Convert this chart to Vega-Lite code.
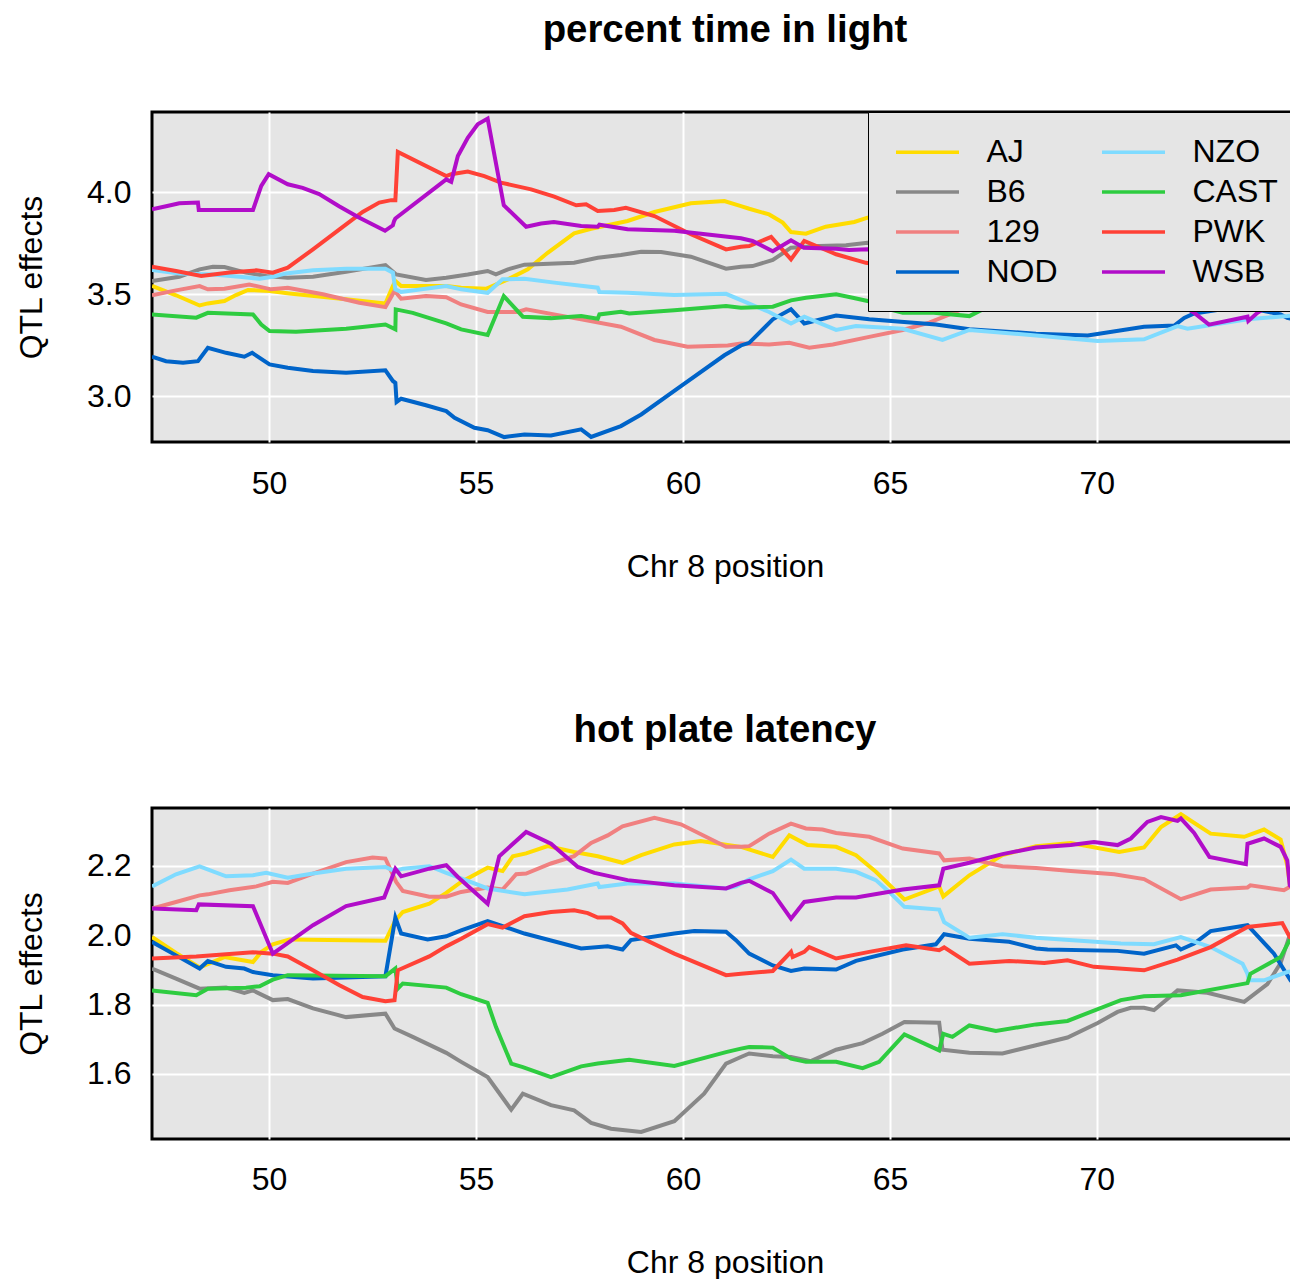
{
"$schema": "https://vega.github.io/schema/vega-lite/v6.json",
"padding": {"left": 13, "top": 9, "right": 0, "bottom": 0},
"config": {
  "font": "Liberation Sans",
  "view": {"fill": "#E5E5E5", "stroke": "black", "strokeWidth": 3},
  "axis": {"grid": true, "gridColor": "white", "gridWidth": 2, "domain": false, "ticks": false, "labelFontSize": 32, "labelColor": "black", "titleFontSize": 32, "titleFontWeight": "normal", "titleColor": "black"},
  "title": {"fontSize": 38.4, "fontWeight": "bold", "color": "black", "anchor": "middle", "baseline": "alphabetic"},
  "concat": {"spacing": 125}
},
"datasets": {
"light": [
{"s":"AJ","x":47.17,"y":3.540},{"s":"AJ","x":47.75,"y":3.494},{"s":"AJ","x":48.32,"y":3.444},{"s":"AJ","x":48.52,"y":3.454},{"s":"AJ","x":48.92,"y":3.466},{"s":"AJ","x":49.20,"y":3.495},{"s":"AJ","x":49.49,"y":3.520},{"s":"AJ","x":50.01,"y":3.515},{"s":"AJ","x":50.49,"y":3.503},{"s":"AJ","x":51.86,"y":3.474},{"s":"AJ","x":52.81,"y":3.454},{"s":"AJ","x":52.99,"y":3.539},{"s":"AJ","x":53.05,"y":3.564},{"s":"AJ","x":53.19,"y":3.539},{"s":"AJ","x":54.28,"y":3.539},{"s":"AJ","x":54.64,"y":3.531},{"s":"AJ","x":55.24,"y":3.526},{"s":"AJ","x":55.77,"y":3.572},{"s":"AJ","x":56.25,"y":3.621},{"s":"AJ","x":56.73,"y":3.702},{"s":"AJ","x":57.37,"y":3.797},{"s":"AJ","x":57.78,"y":3.820},{"s":"AJ","x":58.66,"y":3.858},{"s":"AJ","x":59.31,"y":3.902},{"s":"AJ","x":60.19,"y":3.945},{"s":"AJ","x":61.00,"y":3.956},{"s":"AJ","x":61.40,"y":3.931},{"s":"AJ","x":61.60,"y":3.918},{"s":"AJ","x":62.08,"y":3.890},{"s":"AJ","x":62.41,"y":3.850},{"s":"AJ","x":62.61,"y":3.804},{"s":"AJ","x":62.97,"y":3.796},{"s":"AJ","x":63.45,"y":3.830},{"s":"AJ","x":64.14,"y":3.853},{"s":"AJ","x":64.46,"y":3.874},{"s":"AJ","x":65.5,"y":3.90},{"s":"AJ","x":68.0,"y":3.85},{"s":"AJ","x":71.0,"y":3.80},{"s":"AJ","x":74.9,"y":3.75},
{"s":"B6","x":47.17,"y":3.564},{"s":"B6","x":47.83,"y":3.585},{"s":"B6","x":48.32,"y":3.621},{"s":"B6","x":48.64,"y":3.634},{"s":"B6","x":48.92,"y":3.632},{"s":"B6","x":49.44,"y":3.605},{"s":"B6","x":49.93,"y":3.588},{"s":"B6","x":50.45,"y":3.580},{"s":"B6","x":51.06,"y":3.585},{"s":"B6","x":51.86,"y":3.609},{"s":"B6","x":52.81,"y":3.642},{"s":"B6","x":53.07,"y":3.596},{"s":"B6","x":53.79,"y":3.569},{"s":"B6","x":54.28,"y":3.580},{"s":"B6","x":54.80,"y":3.596},{"s":"B6","x":55.28,"y":3.613},{"s":"B6","x":55.48,"y":3.596},{"s":"B6","x":55.77,"y":3.621},{"s":"B6","x":56.17,"y":3.644},{"s":"B6","x":57.37,"y":3.653},{"s":"B6","x":57.94,"y":3.678},{"s":"B6","x":58.50,"y":3.691},{"s":"B6","x":58.99,"y":3.707},{"s":"B6","x":59.47,"y":3.706},{"s":"B6","x":60.19,"y":3.683},{"s":"B6","x":61.04,"y":3.624},{"s":"B6","x":61.40,"y":3.634},{"s":"B6","x":61.68,"y":3.637},{"s":"B6","x":62.17,"y":3.667},{"s":"B6","x":62.61,"y":3.727},{"s":"B6","x":63.29,"y":3.735},{"s":"B6","x":63.94,"y":3.739},{"s":"B6","x":64.46,"y":3.751},{"s":"B6","x":66.0,"y":3.75},{"s":"B6","x":69.0,"y":3.70},{"s":"B6","x":72.0,"y":3.68},{"s":"B6","x":74.9,"y":3.65},
{"s":"129","x":47.17,"y":3.494},{"s":"129","x":47.75,"y":3.518},{"s":"129","x":48.32,"y":3.539},{"s":"129","x":48.52,"y":3.523},{"s":"129","x":48.92,"y":3.526},{"s":"129","x":49.52,"y":3.547},{"s":"129","x":50.05,"y":3.523},{"s":"129","x":50.45,"y":3.531},{"s":"129","x":51.30,"y":3.499},{"s":"129","x":52.18,"y":3.457},{"s":"129","x":52.81,"y":3.436},{"s":"129","x":53.03,"y":3.515},{"s":"129","x":53.19,"y":3.477},{"s":"129","x":53.79,"y":3.490},{"s":"129","x":54.28,"y":3.484},{"s":"129","x":54.64,"y":3.449},{"s":"129","x":55.28,"y":3.412},{"s":"129","x":56.01,"y":3.412},{"s":"129","x":56.21,"y":3.425},{"s":"129","x":57.54,"y":3.376},{"s":"129","x":58.50,"y":3.340},{"s":"129","x":59.31,"y":3.275},{"s":"129","x":60.11,"y":3.242},{"s":"129","x":61.08,"y":3.248},{"s":"129","x":61.40,"y":3.258},{"s":"129","x":62.08,"y":3.253},{"s":"129","x":62.57,"y":3.261},{"s":"129","x":63.05,"y":3.237},{"s":"129","x":63.62,"y":3.253},{"s":"129","x":64.50,"y":3.290},{"s":"129","x":65.31,"y":3.324},{"s":"129","x":65.95,"y":3.360},{"s":"129","x":66.59,"y":3.412},{"s":"129","x":67.5,"y":3.50},{"s":"129","x":70.0,"y":3.55},{"s":"129","x":72.5,"y":3.55},{"s":"129","x":74.9,"y":3.55},
{"s":"NOD","x":47.17,"y":3.193},{"s":"NOD","x":47.51,"y":3.171},{"s":"NOD","x":47.92,"y":3.163},{"s":"NOD","x":48.28,"y":3.171},{"s":"NOD","x":48.52,"y":3.237},{"s":"NOD","x":48.96,"y":3.212},{"s":"NOD","x":49.40,"y":3.193},{"s":"NOD","x":49.59,"y":3.212},{"s":"NOD","x":50.01,"y":3.155},{"s":"NOD","x":50.45,"y":3.139},{"s":"NOD","x":51.06,"y":3.123},{"s":"NOD","x":51.86,"y":3.114},{"s":"NOD","x":52.81,"y":3.126},{"s":"NOD","x":52.99,"y":3.074},{"s":"NOD","x":53.05,"y":3.065},{"s":"NOD","x":53.08,"y":2.971},{"s":"NOD","x":53.19,"y":2.987},{"s":"NOD","x":53.79,"y":2.955},{"s":"NOD","x":54.28,"y":2.926},{"s":"NOD","x":54.48,"y":2.894},{"s":"NOD","x":54.96,"y":2.845},{"s":"NOD","x":55.28,"y":2.833},{"s":"NOD","x":55.68,"y":2.799},{"s":"NOD","x":56.17,"y":2.812},{"s":"NOD","x":56.81,"y":2.807},{"s":"NOD","x":57.54,"y":2.837},{"s":"NOD","x":57.78,"y":2.800},{"s":"NOD","x":58.50,"y":2.853},{"s":"NOD","x":58.99,"y":2.910},{"s":"NOD","x":59.95,"y":3.049},{"s":"NOD","x":61.00,"y":3.200},{"s":"NOD","x":61.40,"y":3.248},{"s":"NOD","x":61.60,"y":3.261},{"s":"NOD","x":62.17,"y":3.376},{"s":"NOD","x":62.61,"y":3.425},{"s":"NOD","x":62.93,"y":3.356},{"s":"NOD","x":63.70,"y":3.395},{"s":"NOD","x":64.50,"y":3.376},{"s":"NOD","x":66.11,"y":3.351},{"s":"NOD","x":66.92,"y":3.327},{"s":"NOD","x":68.53,"y":3.306},{"s":"NOD","x":69.78,"y":3.297},{"s":"NOD","x":71.14,"y":3.340},{"s":"NOD","x":71.87,"y":3.346},{"s":"NOD","x":72.11,"y":3.383},{"s":"NOD","x":72.35,"y":3.405},{"s":"NOD","x":73.5,"y":3.44},{"s":"NOD","x":74.44,"y":3.400},{"s":"NOD","x":74.60,"y":3.383},{"s":"NOD","x":74.9,"y":3.37},
{"s":"NZO","x":47.17,"y":3.618},{"s":"NZO","x":47.83,"y":3.601},{"s":"NZO","x":48.64,"y":3.596},{"s":"NZO","x":49.28,"y":3.585},{"s":"NZO","x":49.77,"y":3.575},{"s":"NZO","x":50.09,"y":3.585},{"s":"NZO","x":50.41,"y":3.601},{"s":"NZO","x":51.06,"y":3.616},{"s":"NZO","x":51.86,"y":3.624},{"s":"NZO","x":52.81,"y":3.624},{"s":"NZO","x":52.99,"y":3.605},{"s":"NZO","x":53.05,"y":3.523},{"s":"NZO","x":53.19,"y":3.510},{"s":"NZO","x":54.28,"y":3.539},{"s":"NZO","x":54.64,"y":3.523},{"s":"NZO","x":55.28,"y":3.506},{"s":"NZO","x":55.64,"y":3.572},{"s":"NZO","x":56.17,"y":3.575},{"s":"NZO","x":56.89,"y":3.556},{"s":"NZO","x":57.94,"y":3.531},{"s":"NZO","x":57.98,"y":3.510},{"s":"NZO","x":58.66,"y":3.506},{"s":"NZO","x":59.79,"y":3.495},{"s":"NZO","x":61.04,"y":3.501},{"s":"NZO","x":61.40,"y":3.470},{"s":"NZO","x":62.08,"y":3.412},{"s":"NZO","x":62.61,"y":3.356},{"s":"NZO","x":62.93,"y":3.389},{"s":"NZO","x":63.70,"y":3.324},{"s":"NZO","x":64.18,"y":3.343},{"s":"NZO","x":65.31,"y":3.330},{"s":"NZO","x":66.27,"y":3.275},{"s":"NZO","x":66.92,"y":3.324},{"s":"NZO","x":68.53,"y":3.297},{"s":"NZO","x":70.02,"y":3.270},{"s":"NZO","x":71.14,"y":3.278},{"s":"NZO","x":71.95,"y":3.343},{"s":"NZO","x":72.19,"y":3.330},{"s":"NZO","x":73.64,"y":3.376},{"s":"NZO","x":74.60,"y":3.392},{"s":"NZO","x":74.9,"y":3.40},
{"s":"CAST","x":47.17,"y":3.400},{"s":"CAST","x":48.24,"y":3.384},{"s":"CAST","x":48.52,"y":3.408},{"s":"CAST","x":49.61,"y":3.400},{"s":"CAST","x":49.81,"y":3.351},{"s":"CAST","x":50.01,"y":3.319},{"s":"CAST","x":50.65,"y":3.315},{"s":"CAST","x":51.86,"y":3.330},{"s":"CAST","x":52.81,"y":3.351},{"s":"CAST","x":53.05,"y":3.327},{"s":"CAST","x":53.06,"y":3.425},{"s":"CAST","x":53.47,"y":3.408},{"s":"CAST","x":54.28,"y":3.356},{"s":"CAST","x":54.64,"y":3.327},{"s":"CAST","x":55.28,"y":3.299},{"s":"CAST","x":55.67,"y":3.490},{"s":"CAST","x":56.13,"y":3.389},{"s":"CAST","x":56.81,"y":3.382},{"s":"CAST","x":57.54,"y":3.392},{"s":"CAST","x":57.94,"y":3.379},{"s":"CAST","x":57.98,"y":3.400},{"s":"CAST","x":58.50,"y":3.413},{"s":"CAST","x":58.70,"y":3.405},{"s":"CAST","x":59.79,"y":3.420},{"s":"CAST","x":61.04,"y":3.441},{"s":"CAST","x":61.40,"y":3.433},{"s":"CAST","x":62.17,"y":3.438},{"s":"CAST","x":62.61,"y":3.469},{"s":"CAST","x":62.97,"y":3.482},{"s":"CAST","x":63.70,"y":3.499},{"s":"CAST","x":64.10,"y":3.482},{"s":"CAST","x":64.46,"y":3.466},{"s":"CAST","x":64.9,"y":3.43},{"s":"CAST","x":65.31,"y":3.408},{"s":"CAST","x":66.0,"y":3.410},{"s":"CAST","x":66.92,"y":3.392},{"s":"CAST","x":67.24,"y":3.425},{"s":"CAST","x":68.0,"y":3.47},{"s":"CAST","x":71.0,"y":3.50},{"s":"CAST","x":74.9,"y":3.50},
{"s":"PWK","x":47.17,"y":3.634},{"s":"PWK","x":47.75,"y":3.613},{"s":"PWK","x":48.36,"y":3.588},{"s":"PWK","x":49.04,"y":3.605},{"s":"PWK","x":49.69,"y":3.616},{"s":"PWK","x":50.09,"y":3.605},{"s":"PWK","x":50.45,"y":3.629},{"s":"PWK","x":51.06,"y":3.719},{"s":"PWK","x":51.70,"y":3.817},{"s":"PWK","x":52.26,"y":3.902},{"s":"PWK","x":52.66,"y":3.948},{"s":"PWK","x":52.95,"y":3.960},{"s":"PWK","x":53.05,"y":3.960},{"s":"PWK","x":53.11,"y":4.196},{"s":"PWK","x":54.28,"y":4.078},{"s":"PWK","x":54.40,"y":4.087},{"s":"PWK","x":54.80,"y":4.100},{"s":"PWK","x":55.20,"y":4.078},{"s":"PWK","x":55.60,"y":4.046},{"s":"PWK","x":56.33,"y":4.013},{"s":"PWK","x":56.89,"y":3.977},{"s":"PWK","x":57.42,"y":3.935},{"s":"PWK","x":57.66,"y":3.940},{"s":"PWK","x":57.94,"y":3.907},{"s":"PWK","x":58.34,"y":3.912},{"s":"PWK","x":58.62,"y":3.923},{"s":"PWK","x":59.31,"y":3.882},{"s":"PWK","x":60.19,"y":3.793},{"s":"PWK","x":61.04,"y":3.719},{"s":"PWK","x":61.40,"y":3.732},{"s":"PWK","x":61.60,"y":3.735},{"s":"PWK","x":62.13,"y":3.780},{"s":"PWK","x":62.61,"y":3.670},{"s":"PWK","x":62.93,"y":3.760},{"s":"PWK","x":63.70,"y":3.695},{"s":"PWK","x":64.42,"y":3.653},{"s":"PWK","x":65.5,"y":3.62},{"s":"PWK","x":68.0,"y":3.60},{"s":"PWK","x":71.0,"y":3.55},{"s":"PWK","x":74.9,"y":3.50},
{"s":"WSB","x":47.17,"y":3.915},{"s":"WSB","x":47.51,"y":3.930},{"s":"WSB","x":47.83,"y":3.945},{"s":"WSB","x":48.28,"y":3.948},{"s":"WSB","x":48.30,"y":3.912},{"s":"WSB","x":49.61,"y":3.912},{"s":"WSB","x":49.81,"y":4.030},{"s":"WSB","x":49.99,"y":4.087},{"s":"WSB","x":50.45,"y":4.038},{"s":"WSB","x":50.81,"y":4.020},{"s":"WSB","x":51.21,"y":3.990},{"s":"WSB","x":51.69,"y":3.930},{"s":"WSB","x":52.17,"y":3.875},{"s":"WSB","x":52.80,"y":3.810},{"s":"WSB","x":52.99,"y":3.837},{"s":"WSB","x":53.02,"y":3.858},{"s":"WSB","x":53.05,"y":3.870},{"s":"WSB","x":54.28,"y":4.062},{"s":"WSB","x":54.40,"y":4.050},{"s":"WSB","x":54.56,"y":4.176},{"s":"WSB","x":54.80,"y":4.266},{"s":"WSB","x":55.04,"y":4.332},{"s":"WSB","x":55.28,"y":4.360},{"s":"WSB","x":55.67,"y":3.935},{"s":"WSB","x":56.21,"y":3.830},{"s":"WSB","x":56.57,"y":3.846},{"s":"WSB","x":56.88,"y":3.853},{"s":"WSB","x":57.54,"y":3.833},{"s":"WSB","x":57.94,"y":3.830},{"s":"WSB","x":57.98,"y":3.840},{"s":"WSB","x":58.66,"y":3.817},{"s":"WSB","x":59.79,"y":3.810},{"s":"WSB","x":61.40,"y":3.773},{"s":"WSB","x":61.68,"y":3.760},{"s":"WSB","x":62.17,"y":3.710},{"s":"WSB","x":62.61,"y":3.763},{"s":"WSB","x":62.92,"y":3.727},{"s":"WSB","x":63.70,"y":3.722},{"s":"WSB","x":64.01,"y":3.716},{"s":"WSB","x":64.46,"y":3.719},{"s":"WSB","x":67.0,"y":3.65},{"s":"WSB","x":70.0,"y":3.55},{"s":"WSB","x":72.0,"y":3.45},{"s":"WSB","x":72.34,"y":3.410},{"s":"WSB","x":72.71,"y":3.350},{"s":"WSB","x":73.64,"y":3.389},{"s":"WSB","x":73.66,"y":3.368},{"s":"WSB","x":73.88,"y":3.408},{"s":"WSB","x":74.2,"y":3.45},{"s":"WSB","x":74.9,"y":3.50}
],
"hot": [
{"s":"AJ","x":47.17,"y":1.995},{"s":"AJ","x":47.75,"y":1.949},{"s":"AJ","x":48.32,"y":1.907},{"s":"AJ","x":48.92,"y":1.937},{"s":"AJ","x":49.61,"y":1.923},{"s":"AJ","x":49.81,"y":1.952},{"s":"AJ","x":50.09,"y":1.974},{"s":"AJ","x":50.49,"y":1.988},{"s":"AJ","x":52.81,"y":1.984},{"s":"AJ","x":53.05,"y":2.043},{"s":"AJ","x":53.23,"y":2.067},{"s":"AJ","x":53.87,"y":2.091},{"s":"AJ","x":54.28,"y":2.122},{"s":"AJ","x":54.64,"y":2.154},{"s":"AJ","x":55.28,"y":2.195},{"s":"AJ","x":55.64,"y":2.185},{"s":"AJ","x":55.89,"y":2.228},{"s":"AJ","x":56.21,"y":2.236},{"s":"AJ","x":56.73,"y":2.257},{"s":"AJ","x":57.37,"y":2.240},{"s":"AJ","x":57.94,"y":2.228},{"s":"AJ","x":58.54,"y":2.209},{"s":"AJ","x":58.99,"y":2.231},{"s":"AJ","x":59.79,"y":2.262},{"s":"AJ","x":60.43,"y":2.272},{"s":"AJ","x":61.40,"y":2.255},{"s":"AJ","x":62.17,"y":2.226},{"s":"AJ","x":62.57,"y":2.288},{"s":"AJ","x":63.01,"y":2.260},{"s":"AJ","x":63.70,"y":2.255},{"s":"AJ","x":64.18,"y":2.231},{"s":"AJ","x":64.66,"y":2.183},{"s":"AJ","x":65.35,"y":2.103},{"s":"AJ","x":66.19,"y":2.141},{"s":"AJ","x":66.29,"y":2.112},{"s":"AJ","x":66.92,"y":2.173},{"s":"AJ","x":67.72,"y":2.231},{"s":"AJ","x":68.53,"y":2.257},{"s":"AJ","x":69.37,"y":2.266},{"s":"AJ","x":70.54,"y":2.240},{"s":"AJ","x":71.14,"y":2.253},{"s":"AJ","x":71.55,"y":2.312},{"s":"AJ","x":72.03,"y":2.349},{"s":"AJ","x":72.75,"y":2.293},{"s":"AJ","x":73.56,"y":2.284},{"s":"AJ","x":74.04,"y":2.305},{"s":"AJ","x":74.44,"y":2.276},{"s":"AJ","x":74.60,"y":2.202},{"s":"AJ","x":74.66,"y":2.149},{"s":"AJ","x":74.9,"y":2.14},
{"s":"B6","x":47.17,"y":1.904},{"s":"B6","x":47.75,"y":1.875},{"s":"B6","x":48.32,"y":1.846},{"s":"B6","x":48.96,"y":1.849},{"s":"B6","x":49.40,"y":1.834},{"s":"B6","x":49.61,"y":1.841},{"s":"B6","x":50.09,"y":1.813},{"s":"B6","x":50.45,"y":1.816},{"s":"B6","x":51.06,"y":1.789},{"s":"B6","x":51.86,"y":1.764},{"s":"B6","x":52.81,"y":1.774},{"s":"B6","x":53.03,"y":1.731},{"s":"B6","x":53.47,"y":1.707},{"s":"B6","x":54.28,"y":1.661},{"s":"B6","x":54.64,"y":1.635},{"s":"B6","x":55.28,"y":1.591},{"s":"B6","x":55.85,"y":1.497},{"s":"B6","x":56.13,"y":1.543},{"s":"B6","x":56.81,"y":1.510},{"s":"B6","x":57.37,"y":1.495},{"s":"B6","x":57.78,"y":1.459},{"s":"B6","x":58.26,"y":1.442},{"s":"B6","x":58.99,"y":1.433},{"s":"B6","x":59.79,"y":1.464},{"s":"B6","x":60.51,"y":1.543},{"s":"B6","x":61.04,"y":1.630},{"s":"B6","x":61.40,"y":1.649},{"s":"B6","x":61.60,"y":1.659},{"s":"B6","x":62.17,"y":1.651},{"s":"B6","x":62.61,"y":1.649},{"s":"B6","x":63.09,"y":1.637},{"s":"B6","x":63.70,"y":1.670},{"s":"B6","x":64.34,"y":1.689},{"s":"B6","x":64.82,"y":1.716},{"s":"B6","x":65.35,"y":1.750},{"s":"B6","x":66.19,"y":1.748},{"s":"B6","x":66.27,"y":1.670},{"s":"B6","x":66.92,"y":1.661},{"s":"B6","x":67.72,"y":1.659},{"s":"B6","x":68.53,"y":1.683},{"s":"B6","x":69.29,"y":1.705},{"s":"B6","x":70.02,"y":1.747},{"s":"B6","x":70.50,"y":1.779},{"s":"B6","x":70.82,"y":1.791},{"s":"B6","x":71.14,"y":1.791},{"s":"B6","x":71.38,"y":1.784},{"s":"B6","x":71.95,"y":1.841},{"s":"B6","x":72.67,"y":1.834},{"s":"B6","x":73.56,"y":1.808},{"s":"B6","x":74.12,"y":1.859},{"s":"B6","x":74.44,"y":1.920},{"s":"B6","x":74.66,"y":2.000},{"s":"B6","x":74.9,"y":2.03},
{"s":"129","x":47.17,"y":2.077},{"s":"129","x":47.75,"y":2.096},{"s":"129","x":48.32,"y":2.115},{"s":"129","x":48.52,"y":2.118},{"s":"129","x":49.04,"y":2.130},{"s":"129","x":49.69,"y":2.141},{"s":"129","x":50.09,"y":2.154},{"s":"129","x":50.45,"y":2.151},{"s":"129","x":51.06,"y":2.178},{"s":"129","x":51.86,"y":2.211},{"s":"129","x":52.50,"y":2.224},{"s":"129","x":52.81,"y":2.221},{"s":"129","x":53.07,"y":2.154},{"s":"129","x":53.23,"y":2.128},{"s":"129","x":53.87,"y":2.111},{"s":"129","x":54.28,"y":2.111},{"s":"129","x":54.64,"y":2.125},{"s":"129","x":55.28,"y":2.138},{"s":"129","x":55.64,"y":2.132},{"s":"129","x":55.97,"y":2.176},{"s":"129","x":56.21,"y":2.178},{"s":"129","x":56.81,"y":2.207},{"s":"129","x":57.37,"y":2.228},{"s":"129","x":57.78,"y":2.266},{"s":"129","x":58.18,"y":2.288},{"s":"129","x":58.54,"y":2.314},{"s":"129","x":59.31,"y":2.339},{"s":"129","x":59.95,"y":2.320},{"s":"129","x":61.04,"y":2.255},{"s":"129","x":61.40,"y":2.255},{"s":"129","x":61.60,"y":2.257},{"s":"129","x":62.08,"y":2.293},{"s":"129","x":62.61,"y":2.322},{"s":"129","x":62.97,"y":2.308},{"s":"129","x":63.37,"y":2.305},{"s":"129","x":63.70,"y":2.295},{"s":"129","x":64.50,"y":2.284},{"s":"129","x":65.31,"y":2.250},{"s":"129","x":66.19,"y":2.236},{"s":"129","x":66.31,"y":2.216},{"s":"129","x":66.92,"y":2.221},{"s":"129","x":67.72,"y":2.199},{"s":"129","x":68.53,"y":2.194},{"s":"129","x":69.37,"y":2.185},{"s":"129","x":70.42,"y":2.176},{"s":"129","x":71.14,"y":2.162},{"s":"129","x":72.03,"y":2.104},{"s":"129","x":72.75,"y":2.132},{"s":"129","x":73.64,"y":2.138},{"s":"129","x":73.71,"y":2.144},{"s":"129","x":74.52,"y":2.130},{"s":"129","x":74.68,"y":2.141},{"s":"129","x":74.9,"y":2.14},
{"s":"NOD","x":47.17,"y":1.981},{"s":"NOD","x":47.75,"y":1.942},{"s":"NOD","x":48.32,"y":1.904},{"s":"NOD","x":48.52,"y":1.926},{"s":"NOD","x":48.96,"y":1.909},{"s":"NOD","x":49.40,"y":1.904},{"s":"NOD","x":49.61,"y":1.894},{"s":"NOD","x":50.09,"y":1.885},{"s":"NOD","x":51.06,"y":1.875},{"s":"NOD","x":52.81,"y":1.882},{"s":"NOD","x":53.05,"y":2.051},{"s":"NOD","x":53.19,"y":2.005},{"s":"NOD","x":53.83,"y":1.988},{"s":"NOD","x":54.28,"y":1.997},{"s":"NOD","x":54.64,"y":2.014},{"s":"NOD","x":55.28,"y":2.041},{"s":"NOD","x":56.17,"y":2.005},{"s":"NOD","x":57.54,"y":1.962},{"s":"NOD","x":58.18,"y":1.968},{"s":"NOD","x":58.54,"y":1.959},{"s":"NOD","x":58.74,"y":1.986},{"s":"NOD","x":59.79,"y":2.005},{"s":"NOD","x":60.27,"y":2.012},{"s":"NOD","x":61.04,"y":2.010},{"s":"NOD","x":61.28,"y":1.986},{"s":"NOD","x":61.60,"y":1.947},{"s":"NOD","x":62.17,"y":1.913},{"s":"NOD","x":62.61,"y":1.897},{"s":"NOD","x":62.93,"y":1.904},{"s":"NOD","x":63.70,"y":1.901},{"s":"NOD","x":64.18,"y":1.926},{"s":"NOD","x":65.31,"y":1.959},{"s":"NOD","x":66.11,"y":1.974},{"s":"NOD","x":66.31,"y":2.003},{"s":"NOD","x":66.92,"y":1.990},{"s":"NOD","x":67.88,"y":1.981},{"s":"NOD","x":68.53,"y":1.962},{"s":"NOD","x":68.81,"y":1.959},{"s":"NOD","x":70.50,"y":1.955},{"s":"NOD","x":71.14,"y":1.947},{"s":"NOD","x":71.91,"y":1.971},{"s":"NOD","x":72.03,"y":1.959},{"s":"NOD","x":72.35,"y":1.976},{"s":"NOD","x":72.75,"y":2.012},{"s":"NOD","x":73.64,"y":2.029},{"s":"NOD","x":74.28,"y":1.947},{"s":"NOD","x":74.68,"y":1.870},{"s":"NOD","x":74.9,"y":1.84},
{"s":"NZO","x":47.17,"y":2.141},{"s":"NZO","x":47.75,"y":2.176},{"s":"NZO","x":48.32,"y":2.199},{"s":"NZO","x":48.96,"y":2.170},{"s":"NZO","x":49.61,"y":2.173},{"s":"NZO","x":49.93,"y":2.180},{"s":"NZO","x":50.45,"y":2.166},{"s":"NZO","x":51.06,"y":2.178},{"s":"NZO","x":51.86,"y":2.192},{"s":"NZO","x":52.81,"y":2.197},{"s":"NZO","x":53.03,"y":2.185},{"s":"NZO","x":53.23,"y":2.192},{"s":"NZO","x":53.87,"y":2.199},{"s":"NZO","x":54.28,"y":2.180},{"s":"NZO","x":54.64,"y":2.164},{"s":"NZO","x":55.28,"y":2.135},{"s":"NZO","x":56.17,"y":2.118},{"s":"NZO","x":57.21,"y":2.132},{"s":"NZO","x":57.94,"y":2.149},{"s":"NZO","x":57.98,"y":2.139},{"s":"NZO","x":58.66,"y":2.149},{"s":"NZO","x":59.79,"y":2.149},{"s":"NZO","x":61.04,"y":2.135},{"s":"NZO","x":61.28,"y":2.141},{"s":"NZO","x":61.60,"y":2.161},{"s":"NZO","x":62.17,"y":2.185},{"s":"NZO","x":62.61,"y":2.218},{"s":"NZO","x":62.93,"y":2.192},{"s":"NZO","x":63.70,"y":2.192},{"s":"NZO","x":64.18,"y":2.183},{"s":"NZO","x":64.66,"y":2.159},{"s":"NZO","x":64.98,"y":2.125},{"s":"NZO","x":65.35,"y":2.082},{"s":"NZO","x":66.19,"y":2.074},{"s":"NZO","x":66.31,"y":2.038},{"s":"NZO","x":66.92,"y":1.993},{"s":"NZO","x":67.72,"y":2.003},{"s":"NZO","x":68.53,"y":1.993},{"s":"NZO","x":70.58,"y":1.976},{"s":"NZO","x":71.38,"y":1.974},{"s":"NZO","x":72.03,"y":1.995},{"s":"NZO","x":72.75,"y":1.966},{"s":"NZO","x":73.52,"y":1.918},{"s":"NZO","x":73.64,"y":1.889},{"s":"NZO","x":73.67,"y":1.870},{"s":"NZO","x":74.04,"y":1.870},{"s":"NZO","x":74.60,"y":1.894},{"s":"NZO","x":74.9,"y":1.90},
{"s":"CAST","x":47.17,"y":1.841},{"s":"CAST","x":48.24,"y":1.827},{"s":"CAST","x":48.52,"y":1.846},{"s":"CAST","x":49.44,"y":1.849},{"s":"CAST","x":49.77,"y":1.853},{"s":"CAST","x":50.09,"y":1.872},{"s":"CAST","x":50.45,"y":1.885},{"s":"CAST","x":52.81,"y":1.882},{"s":"CAST","x":53.05,"y":1.904},{"s":"CAST","x":53.11,"y":1.846},{"s":"CAST","x":53.23,"y":1.861},{"s":"CAST","x":54.28,"y":1.849},{"s":"CAST","x":54.64,"y":1.830},{"s":"CAST","x":55.28,"y":1.805},{"s":"CAST","x":55.48,"y":1.736},{"s":"CAST","x":55.85,"y":1.630},{"s":"CAST","x":56.13,"y":1.620},{"s":"CAST","x":56.81,"y":1.591},{"s":"CAST","x":57.54,"y":1.622},{"s":"CAST","x":57.94,"y":1.630},{"s":"CAST","x":58.70,"y":1.641},{"s":"CAST","x":59.79,"y":1.623},{"s":"CAST","x":61.04,"y":1.663},{"s":"CAST","x":61.40,"y":1.673},{"s":"CAST","x":61.60,"y":1.678},{"s":"CAST","x":62.17,"y":1.676},{"s":"CAST","x":62.61,"y":1.644},{"s":"CAST","x":62.97,"y":1.635},{"s":"CAST","x":63.70,"y":1.635},{"s":"CAST","x":64.34,"y":1.617},{"s":"CAST","x":64.74,"y":1.635},{"s":"CAST","x":65.35,"y":1.714},{"s":"CAST","x":66.19,"y":1.668},{"s":"CAST","x":66.29,"y":1.716},{"s":"CAST","x":66.51,"y":1.707},{"s":"CAST","x":66.92,"y":1.740},{"s":"CAST","x":67.56,"y":1.724},{"s":"CAST","x":68.53,"y":1.743},{"s":"CAST","x":69.29,"y":1.753},{"s":"CAST","x":70.58,"y":1.813},{"s":"CAST","x":71.14,"y":1.824},{"s":"CAST","x":72.03,"y":1.827},{"s":"CAST","x":73.64,"y":1.862},{"s":"CAST","x":73.71,"y":1.889},{"s":"CAST","x":74.44,"y":1.937},{"s":"CAST","x":74.66,"y":1.986},{"s":"CAST","x":74.9,"y":2.00},
{"s":"PWK","x":47.17,"y":1.933},{"s":"PWK","x":48.24,"y":1.939},{"s":"PWK","x":48.96,"y":1.945},{"s":"PWK","x":49.61,"y":1.951},{"s":"PWK","x":50.09,"y":1.947},{"s":"PWK","x":50.45,"y":1.939},{"s":"PWK","x":51.06,"y":1.899},{"s":"PWK","x":51.70,"y":1.856},{"s":"PWK","x":52.26,"y":1.822},{"s":"PWK","x":52.81,"y":1.810},{"s":"PWK","x":53.03,"y":1.813},{"s":"PWK","x":53.11,"y":1.899},{"s":"PWK","x":53.87,"y":1.939},{"s":"PWK","x":54.28,"y":1.968},{"s":"PWK","x":54.64,"y":1.990},{"s":"PWK","x":55.28,"y":2.032},{"s":"PWK","x":55.64,"y":2.022},{"s":"PWK","x":56.17,"y":2.055},{"s":"PWK","x":56.81,"y":2.067},{"s":"PWK","x":57.37,"y":2.072},{"s":"PWK","x":57.70,"y":2.064},{"s":"PWK","x":57.94,"y":2.051},{"s":"PWK","x":58.26,"y":2.051},{"s":"PWK","x":58.54,"y":2.034},{"s":"PWK","x":58.74,"y":2.007},{"s":"PWK","x":59.79,"y":1.947},{"s":"PWK","x":61.04,"y":1.885},{"s":"PWK","x":61.40,"y":1.889},{"s":"PWK","x":62.17,"y":1.897},{"s":"PWK","x":62.61,"y":1.952},{"s":"PWK","x":62.65,"y":1.937},{"s":"PWK","x":62.93,"y":1.952},{"s":"PWK","x":63.05,"y":1.966},{"s":"PWK","x":63.70,"y":1.933},{"s":"PWK","x":64.50,"y":1.952},{"s":"PWK","x":65.39,"y":1.971},{"s":"PWK","x":66.19,"y":1.957},{"s":"PWK","x":66.31,"y":1.965},{"s":"PWK","x":66.92,"y":1.918},{"s":"PWK","x":67.88,"y":1.926},{"s":"PWK","x":68.73,"y":1.920},{"s":"PWK","x":69.29,"y":1.928},{"s":"PWK","x":69.93,"y":1.909},{"s":"PWK","x":71.14,"y":1.899},{"s":"PWK","x":71.95,"y":1.930},{"s":"PWK","x":72.75,"y":1.966},{"s":"PWK","x":73.64,"y":2.024},{"s":"PWK","x":74.48,"y":2.035},{"s":"PWK","x":74.66,"y":1.995},{"s":"PWK","x":74.9,"y":1.98},
{"s":"WSB","x":47.17,"y":2.077},{"s":"WSB","x":48.24,"y":2.072},{"s":"WSB","x":48.30,"y":2.089},{"s":"WSB","x":49.61,"y":2.084},{"s":"WSB","x":50.09,"y":1.947},{"s":"WSB","x":51.06,"y":2.029},{"s":"WSB","x":51.86,"y":2.084},{"s":"WSB","x":52.78,"y":2.109},{"s":"WSB","x":53.05,"y":2.192},{"s":"WSB","x":53.19,"y":2.170},{"s":"WSB","x":53.87,"y":2.192},{"s":"WSB","x":54.28,"y":2.202},{"s":"WSB","x":54.56,"y":2.168},{"s":"WSB","x":55.28,"y":2.091},{"s":"WSB","x":55.56,"y":2.228},{"s":"WSB","x":56.21,"y":2.298},{"s":"WSB","x":56.81,"y":2.264},{"s":"WSB","x":57.46,"y":2.197},{"s":"WSB","x":57.86,"y":2.180},{"s":"WSB","x":58.66,"y":2.159},{"s":"WSB","x":59.79,"y":2.144},{"s":"WSB","x":61.04,"y":2.135},{"s":"WSB","x":61.40,"y":2.151},{"s":"WSB","x":61.60,"y":2.157},{"s":"WSB","x":62.17,"y":2.122},{"s":"WSB","x":62.61,"y":2.048},{"s":"WSB","x":62.93,"y":2.096},{"s":"WSB","x":63.70,"y":2.109},{"s":"WSB","x":64.18,"y":2.109},{"s":"WSB","x":65.31,"y":2.132},{"s":"WSB","x":66.19,"y":2.144},{"s":"WSB","x":66.29,"y":2.192},{"s":"WSB","x":66.92,"y":2.209},{"s":"WSB","x":67.72,"y":2.234},{"s":"WSB","x":68.53,"y":2.253},{"s":"WSB","x":69.37,"y":2.260},{"s":"WSB","x":69.93,"y":2.269},{"s":"WSB","x":70.50,"y":2.260},{"s":"WSB","x":70.82,"y":2.279},{"s":"WSB","x":71.22,"y":2.327},{"s":"WSB","x":71.55,"y":2.341},{"s":"WSB","x":71.95,"y":2.330},{"s":"WSB","x":72.03,"y":2.337},{"s":"WSB","x":72.35,"y":2.295},{"s":"WSB","x":72.72,"y":2.226},{"s":"WSB","x":73.60,"y":2.205},{"s":"WSB","x":73.64,"y":2.264},{"s":"WSB","x":74.04,"y":2.279},{"s":"WSB","x":74.44,"y":2.255},{"s":"WSB","x":74.60,"y":2.216},{"s":"WSB","x":74.66,"y":2.144},{"s":"WSB","x":74.9,"y":2.12}
]
},
"resolve": {"legend": {"color": "independent"}},
"vconcat": [
{
  "title": {"text": "percent time in light", "offset": 61},
  "data": {"name": "light"},
  "width": 1146, "height": 330,
  "mark": {"type": "line", "strokeWidth": 4, "clip": true},
  "encoding": {
    "x": {"field": "x", "type": "quantitative", "scale": {"domain": [47.17, 74.86], "nice": false, "zero": false},
          "axis": {"values": [50, 55, 60, 65, 70, 75], "title": "Chr 8 position", "labelPadding": 51, "labelBaseline": "alphabetic", "labelFlush": false, "titleY": 134, "titleBaseline": "alphabetic"}},
    "y": {"field": "y", "type": "quantitative", "scale": {"domain": [2.775, 4.392], "nice": false, "zero": false},
          "axis": {"values": [3.0, 3.5, 4.0], "format": ".1f", "title": "QTL effects", "labelPadding": 21, "titleX": -111, "titleY": 165, "titleAngle": -90, "titleBaseline": "alphabetic", "titleAlign": "center"}},
    "color": {"field": "s", "type": "nominal",
              "scale": {"domain": ["AJ", "B6", "129", "NOD", "NZO", "CAST", "PWK", "WSB"], "range": ["#FFDC00", "#888888", "#F08080", "#0064C9", "#7FDBFF", "#2ECC40", "#FF4136", "#B10DC9"]},
              "legend": {"orient": "none", "legendX": 716, "legendY": 0, "title": null, "columns": 2, "symbolType": "M-2,0H2", "symbolSize": 992.25, "symbolStrokeWidth": 3.5, "symbolOffset": 19.5, "labelFontSize": 32, "labelColor": "black", "labelOffset": 41.5, "columnPadding": 36, "rowPadding": 6, "padding": 22.5, "fillColor": "#E5E5E5", "strokeColor": "black"}}
  }
},
{
  "title": {"text": "hot plate latency", "offset": 58},
  "data": {"name": "hot"},
  "width": 1146, "height": 331,
  "mark": {"type": "line", "strokeWidth": 4, "clip": true},
  "encoding": {
    "x": {"field": "x", "type": "quantitative", "scale": {"domain": [47.17, 74.86], "nice": false, "zero": false},
          "axis": {"values": [50, 55, 60, 65, 70, 75], "title": "Chr 8 position", "labelPadding": 50, "labelBaseline": "alphabetic", "labelFlush": false, "titleY": 133, "titleBaseline": "alphabetic"}},
    "y": {"field": "y", "type": "quantitative", "scale": {"domain": [1.4125, 2.367], "nice": false, "zero": false},
          "axis": {"values": [1.6, 1.8, 2.0, 2.2], "format": ".1f", "title": "QTL effects", "labelPadding": 21, "titleX": -111, "titleY": 165.5, "titleAngle": -90, "titleBaseline": "alphabetic", "titleAlign": "center"}},
    "color": {"field": "s", "type": "nominal",
              "scale": {"domain": ["AJ", "B6", "129", "NOD", "NZO", "CAST", "PWK", "WSB"], "range": ["#FFDC00", "#888888", "#F08080", "#0064C9", "#7FDBFF", "#2ECC40", "#FF4136", "#B10DC9"]},
              "legend": null}
  }
}
]
}
